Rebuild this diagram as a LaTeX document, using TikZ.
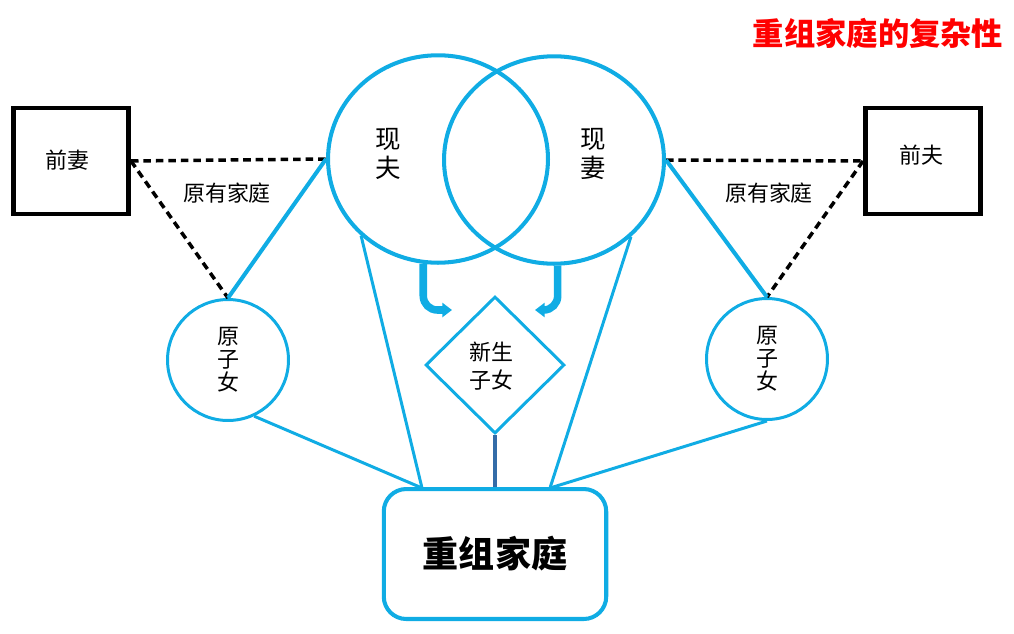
\documentclass[tikz,border=0pt]{standalone}
\usepackage{fontspec}
\setmainfont{Noto Sans CJK SC}
\usetikzlibrary{shapes.geometric,arrows.meta}
\definecolor{lan}{RGB}{16,172,228}
\definecolor{shenlan}{RGB}{52,108,168}
\definecolor{hong}{RGB}{255,0,0}

\begin{document}
\begin{tikzpicture}[x=0.02cm,y=-0.02cm,
  ren/.style={draw,line width=2.8pt,minimum width=2.3cm,minimum height=2.12cm},
  fuqi/.style={ellipse,draw=lan,line width=2.3pt,minimum width=4.4cm,minimum height=4.15cm},
  zinv/.style={circle,draw=lan,line width=1.7pt,minimum size=2.42cm},
  xuxian/.style={line width=2pt,dash pattern=on 4.3pt off 2.8pt},
  lanxian/.style={draw=lan,line width=1.7pt},
  jiantou/.style={draw=lan,line width=4.3pt,rounded corners=8pt,-{Triangle[length=5.5pt,width=8pt]}},
  wenzi/.style={font=\fontsize{12.5}{13.2}\selectfont,align=center,inner sep=0pt}]
\useasboundingbox (0,0) rectangle (1014,633);
\node [text=hong,font=\bfseries\fontsize{17.8}{20}\selectfont] (biaoti) at (878,33) {重组家庭的复杂性};
\node [ren] (qianqi) at (71,161) {};
\node [ren] (qianfu) at (923,161) {};
\node [wenzi] at (67,160) {前妻};
\node [wenzi] at (921,155) {前夫};
\node [fuqi] (xianfu) at (438,159) {};
\node [fuqi] (xianqi) at (554,160) {};
\node [wenzi,font=\fontsize{14.5}{16}\selectfont] at (388,154) {现\\夫};
\node [wenzi,font=\fontsize{14.5}{16}\selectfont] at (593,154) {现\\妻};
\node [zinv] (yzn1) at (228,360) {};
\node [zinv] (yzn2) at (767,359) {};
\node [wenzi] at (228,360) {原\\子\\女};
\node [wenzi] at (767,359) {原\\子\\女};
\node [diamond,draw=lan,line width=1.7pt,minimum width=2.78cm,minimum height=2.74cm,inner sep=0pt] (xszn) at (495,365) {};
\node [wenzi,font=\fontsize{12.5}{16}\selectfont] at (491,366) {新生\\子女};
\node [draw=lan,line width=2.3pt,rounded corners=0.45cm,minimum width=4.45cm,minimum height=2.6cm,font=\bfseries\fontsize{20.5}{22}\selectfont] (chongzu) at (495,554) {重组家庭};
\node [wenzi] at (227,193) {原有家庭};
\node [wenzi] at (769,193) {原有家庭};
\coordinate (ruL) at (422,488);
\coordinate (ruR) at (550,488);
\coordinate (jianL) at (452,310);
\coordinate (jianR) at (535,310);
\draw [xuxian] (qianqi.east) -- (xianfu.west);
\draw [xuxian] (qianqi.east) -- (yzn1.north);
\draw [lanxian,line width=2.3pt] (xianfu.west) -- (yzn1.north);
\draw [xuxian] (xianqi.east) -- (qianfu.west);
\draw [xuxian] (qianfu.west) -- (yzn2.north);
\draw [lanxian,line width=2.3pt] (xianqi.east) -- (yzn2.north);
\draw [jiantou] (xianfu.-98) |- (jianL);
\draw [jiantou] (xianqi.-88) |- (jianR);
\draw [lanxian] (yzn1.-65) -- (ruL);
\draw [lanxian] (xianfu.225) -- (ruL);
\draw [lanxian] (xianqi.-45) -- (ruR);
\draw [lanxian] (yzn2.south) -- (ruR);
\draw [draw=shenlan,line width=2pt] (xszn.south) -- (chongzu.north);
\end{tikzpicture}
\end{document}
